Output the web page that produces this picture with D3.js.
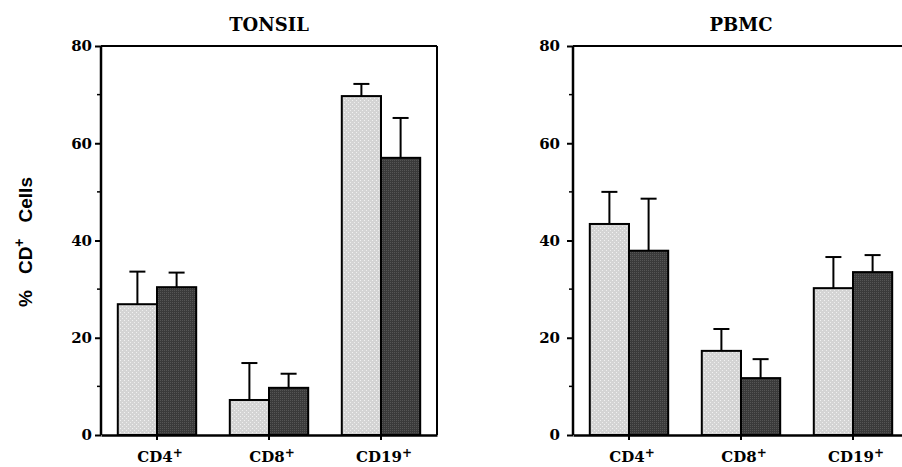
<!DOCTYPE html>
<html>
<head>
<meta charset="utf-8">
<script src="https://cdn.jsdelivr.net/npm/d3@7"></script>
<style>
  body { margin: 0; background: #fff; }
  svg { display: block; }
  .tick-label { font-family: "DejaVu Serif", serif; font-weight: bold; font-size: 15px; fill: #000; }
  .title { font-family: "DejaVu Serif", serif; font-weight: bold; font-size: 18px; fill: #000; }
</style>
</head>
<body>
<div id="chart"></div>
<script>
// categories and values
var categories = ["CD4", "CD8", "CD19"];
var yTicks = [0, 20, 40, 60, 80];
var yMinorTicks = [10, 30, 50, 70];

var tonsilLight = [26.9, 7.2, 69.7];
var tonsilLightErr = [6.7, 7.6, 2.5];
var tonsilDark = [30.4, 9.7, 57.0];
var tonsilDarkErr = [3.0, 2.9, 8.2];

var pbmcLight = [43.4, 17.3, 30.2];
var pbmcLightErr = [6.6, 4.5, 6.4];
var pbmcDark = [37.9, 11.7, 33.5];
var pbmcDarkErr = [10.7, 3.9, 3.5];

var width = 902, height = 467;

var svg = d3.select("#chart").append("svg")
  .attr("width", width)
  .attr("height", height);

// halftone-ish fills
var defs = svg.append("defs");
var pLight = defs.append("pattern").attr("id", "light")
  .attr("width", 4).attr("height", 4).attr("patternUnits", "userSpaceOnUse");
pLight.append("rect").attr("width", 4).attr("height", 4).attr("fill", "#d4d4d4");
pLight.append("rect").attr("x", 0).attr("y", 0).attr("width", 1).attr("height", 1).attr("fill", "#f2f2f2");
pLight.append("rect").attr("x", 2).attr("y", 2).attr("width", 1).attr("height", 1).attr("fill", "#eeeeee");
var pDark = defs.append("pattern").attr("id", "dark")
  .attr("width", 2).attr("height", 2).attr("patternUnits", "userSpaceOnUse");
pDark.append("rect").attr("width", 2).attr("height", 2).attr("fill", "#3a3a3a");
pDark.append("rect").attr("x", 0).attr("y", 0).attr("width", 1).attr("height", 1).attr("fill", "#555");

var y = d3.scaleLinear().domain([0, 80]).range([435, 46]);

function drawPanel(left, right, title, light, lightErr, dark, darkErr, labelPad, frameRight) {
  var g = svg.append("g");

  var x0 = d3.scaleBand().domain(categories).range([left, right])
    .paddingInner(0.3).paddingOuter(0.15);
  var x1 = d3.scaleBand().domain(["light", "dark"]).range([0, x0.bandwidth()]);

  var rows = categories.map(function(c, i) {
    return [
      { cat: c, key: "light", v: light[i], e: lightErr[i] },
      { cat: c, key: "dark", v: dark[i], e: darkErr[i] }
    ];
  });
  var data = d3.merge(rows);

  // error bars (behind bars, only the upper whisker shows)
  var eb = g.selectAll(".err").data(data).enter().append("g");
  eb.append("line")
    .attr("x1", function(d) { return x0(d.cat) + x1(d.key) + x1.bandwidth() / 2; })
    .attr("x2", function(d) { return x0(d.cat) + x1(d.key) + x1.bandwidth() / 2; })
    .attr("y1", function(d) { return y(d.v); })
    .attr("y2", function(d) { return y(d.v + d.e); })
    .attr("stroke", "#000").attr("stroke-width", 2);
  eb.append("line")
    .attr("x1", function(d) { return x0(d.cat) + x1(d.key) + x1.bandwidth() / 2 - 8; })
    .attr("x2", function(d) { return x0(d.cat) + x1(d.key) + x1.bandwidth() / 2 + 8; })
    .attr("y1", function(d) { return y(d.v + d.e); })
    .attr("y2", function(d) { return y(d.v + d.e); })
    .attr("stroke", "#000").attr("stroke-width", 2);

  g.selectAll(".bar").data(data).enter().append("rect")
    .attr("x", function(d) { return x0(d.cat) + x1(d.key); })
    .attr("y", function(d) { return y(d.v); })
    .attr("width", x1.bandwidth())
    .attr("height", function(d) { return y(0) - y(d.v); })
    .attr("fill", function(d) { return "url(#" + d.key + ")"; })
    .attr("stroke", "#000")
    .attr("stroke-width", 2);

  // frame: top line and right side
  g.append("line").attr("x1", left).attr("x2", right)
    .attr("y1", y(80)).attr("y2", y(80))
    .attr("stroke", "#000").attr("stroke-width", 2);
  if (frameRight) {
    g.append("line").attr("x1", right).attr("x2", right)
      .attr("y1", y(80)).attr("y2", y(0))
      .attr("stroke", "#000").attr("stroke-width", 2);
  }

  // y axis
  var yAxis = g.append("g")
    .attr("transform", "translate(" + left + ",0)")
    .call(d3.axisLeft(y).tickValues(yTicks).tickSize(6).tickPadding(labelPad));
  yAxis.attr("font-size", null).attr("font-family", null);
  yAxis.select(".domain").attr("stroke-width", 2.5).attr("d", "M0," + y(0) + "V" + y(80));
  yAxis.selectAll(".tick line").attr("stroke-width", 2);
  yAxis.selectAll(".tick text").attr("class", "tick-label");
  g.selectAll(".minor").data(yMinorTicks).enter().append("line")
    .attr("x1", left - 4).attr("x2", left)
    .attr("y1", function(d) { return y(d); })
    .attr("y2", function(d) { return y(d); })
    .attr("stroke", "#000").attr("stroke-width", 1.5);

  // x axis
  var xAxis = g.append("g")
    .attr("transform", "translate(0," + y(0) + ")")
    .call(d3.axisBottom(x0).tickSize(5).tickSizeOuter(0).tickFormat(""));
  xAxis.select(".domain").attr("stroke-width", 2.5);
  xAxis.selectAll(".tick line").attr("stroke-width", 2);

  var lab = g.selectAll(".xlab").data(categories).enter().append("text")
    .attr("class", "tick-label")
    .attr("x", function(d) { return x0(d) + x0.bandwidth() / 2 + 3; })
    .attr("y", 462)
    .attr("text-anchor", "middle");
  lab.append("tspan").text(function(d) { return d; });
  lab.append("tspan").attr("dy", -5).attr("font-size", "12px").text("+");

  g.append("text")
    .attr("class", "title")
    .attr("x", (left + right) / 2)
    .attr("y", 31)
    .attr("text-anchor", "middle")
    .text(title);
}

drawPanel(101, 437, "TONSIL", tonsilLight, tonsilLightErr, tonsilDark, tonsilDarkErr, 3, true);
drawPanel(573, 909, "PBMC", pbmcLight, pbmcLightErr, pbmcDark, pbmcDarkErr, 7, true);

// y axis title, rotated
var yt = svg.append("text")
  .attr("transform", "translate(32,307) rotate(-90)")
  .attr("font-family", "Liberation Sans, Arial, sans-serif")
  .attr("font-weight", "bold")
  .attr("font-size", "19px")
  .attr("fill", "#000");
yt.append("tspan").text("%");
yt.append("tspan").attr("dx", 16).text("CD");
yt.append("tspan").attr("dy", -8).attr("font-size", "14px").text("+");
yt.append("tspan").attr("dy", 8).attr("dx", 16).text("Cells");
</script>
</body>
</html>
